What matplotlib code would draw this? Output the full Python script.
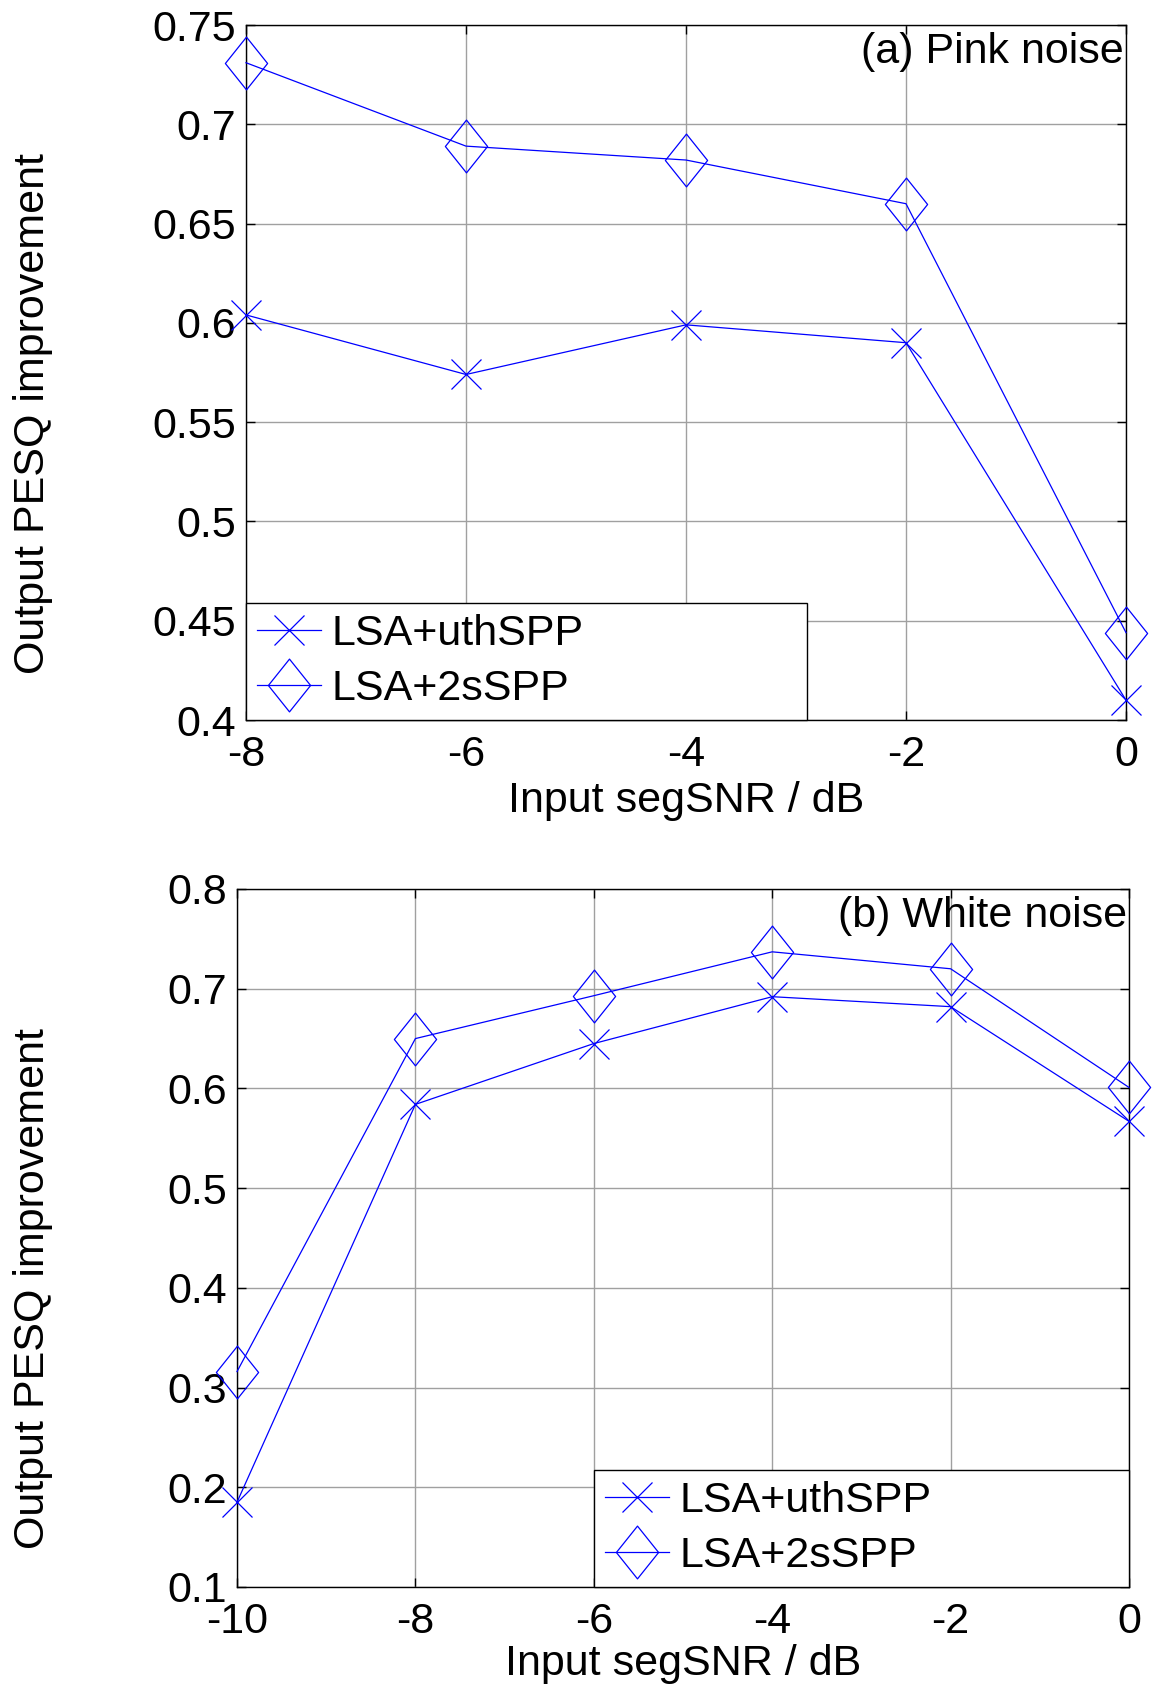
import matplotlib
matplotlib.use("Agg")
import matplotlib.pyplot as plt
from matplotlib.path import Path

plt.rcParams['font.family'] = ['Liberation Sans', 'DejaVu Sans']

# ---- data ----
snr_pink = [-8, -6, -4, -2, 0]
pink_uth = [0.604, 0.574, 0.599, 0.590, 0.410]
pink_2s = [0.731, 0.689, 0.682, 0.660, 0.444]
pink_yticks = [0.4, 0.45, 0.5, 0.55, 0.6, 0.65, 0.7, 0.75]
pink_yticklabels = ['0.4', '0.45', '0.5', '0.55', '0.6', '0.65', '0.7', '0.75']

snr_white = [-10, -8, -6, -4, -2, 0]
white_uth = [0.185, 0.584, 0.645, 0.692, 0.682, 0.567]
white_2s = [0.316, 0.650, 0.693, 0.737, 0.720, 0.601]
white_yticks = [0.1, 0.2, 0.3, 0.4, 0.5, 0.6, 0.7, 0.8]
white_yticklabels = ['0.1', '0.2', '0.3', '0.4', '0.5', '0.6', '0.7', '0.8']

labels = ['LSA+uthSPP', 'LSA+2sSPP']
xlabel = 'Input segSNR / dB'
ylabel = 'Output PESQ improvement'
titles = ['(a) Pink noise', '(b) White noise']

# MATLAB-like diamond (taller than wide)
diamond = Path([(0, 1), (0.8, 0), (0, -1), (-0.8, 0), (0, 1)],
               [Path.MOVETO, Path.LINETO, Path.LINETO, Path.LINETO, Path.CLOSEPOLY])

BLUE = '#0000ff'
FS = 31

fig = plt.figure(figsize=(11.54, 16.84), dpi=100)
ax1 = fig.add_axes([246/1154, 1-720/1684, 880/1154, 695/1684])
ax2 = fig.add_axes([237/1154, 1-1587/1684, 892/1154, 698/1684])


def style(ax, x, uth, s2, xlim, ylim, yt, ytl, title, legloc, legbox,
          axleft, axwidth, lpad, ylab_y):
    ax.plot(x, uth, color=BLUE, lw=0.9, marker='x', ms=22, mew=0.9,
            mfc='none', mec=BLUE, clip_on=False, label=labels[0], zorder=3)
    ax.plot(x, s2, color=BLUE, lw=0.9, marker=diamond, ms=38, mew=0.9,
            mfc='none', mec=BLUE, clip_on=False, label=labels[1], zorder=3)
    ax.set_xlim(*xlim)
    ax.set_ylim(*ylim)
    ax.set_xticks(x)
    ax.set_xticklabels([str(v) for v in x])
    ax.set_yticks(yt)
    ax.set_yticklabels(ytl)
    ax.grid(True, color='#a0a0a0', lw=1.0, ls='-')
    ax.set_axisbelow(True)
    ax.tick_params(direction='in', length=6.5, width=1.0, top=True, right=True,
                   labelsize=FS, pad=7)
    ax.tick_params(axis='x', pad=11)
    for sp in ax.spines.values():
        sp.set_linewidth(1.0)
        sp.set_color('black')
    ax.set_xlabel(xlabel, fontsize=FS, labelpad=lpad)
    ax.set_ylabel(ylabel, fontsize=FS)
    ax.yaxis.set_label_coords(-(axleft - 53)/axwidth, ylab_y)
    ax.text(0.998, 0.99, title, transform=ax.transAxes, ha='right', va='top',
            fontsize=FS, zorder=5)
    leg = ax.legend(loc=legloc, bbox_to_anchor=legbox, mode='expand',
                    fontsize=FS, frameon=True, fancybox=False,
                    edgecolor='black', framealpha=1, borderaxespad=0,
                    handlelength=1.5, handletextpad=0.23, labelspacing=0.36,
                    borderpad=0.25, markerscale=1.0)
    leg.get_frame().set_linewidth(1.0)
    leg.set_zorder(10)


style(ax1, snr_pink, pink_uth, pink_2s, (-8, 0), (0.4, 0.75),
      pink_yticks, pink_yticklabels, titles[0], 'lower left',
      (0, 0, 0.638, 0.1), 246, 880, 4, 0.441)
style(ax2, snr_white, white_uth, white_2s, (-10, 0), (0.1, 0.8),
      white_yticks, white_yticklabels, titles[1], 'lower right',
      (0.4, 0, 0.6, 0.1), 237, 892, 1, 0.428)

fig.savefig('out.png', dpi=100)
